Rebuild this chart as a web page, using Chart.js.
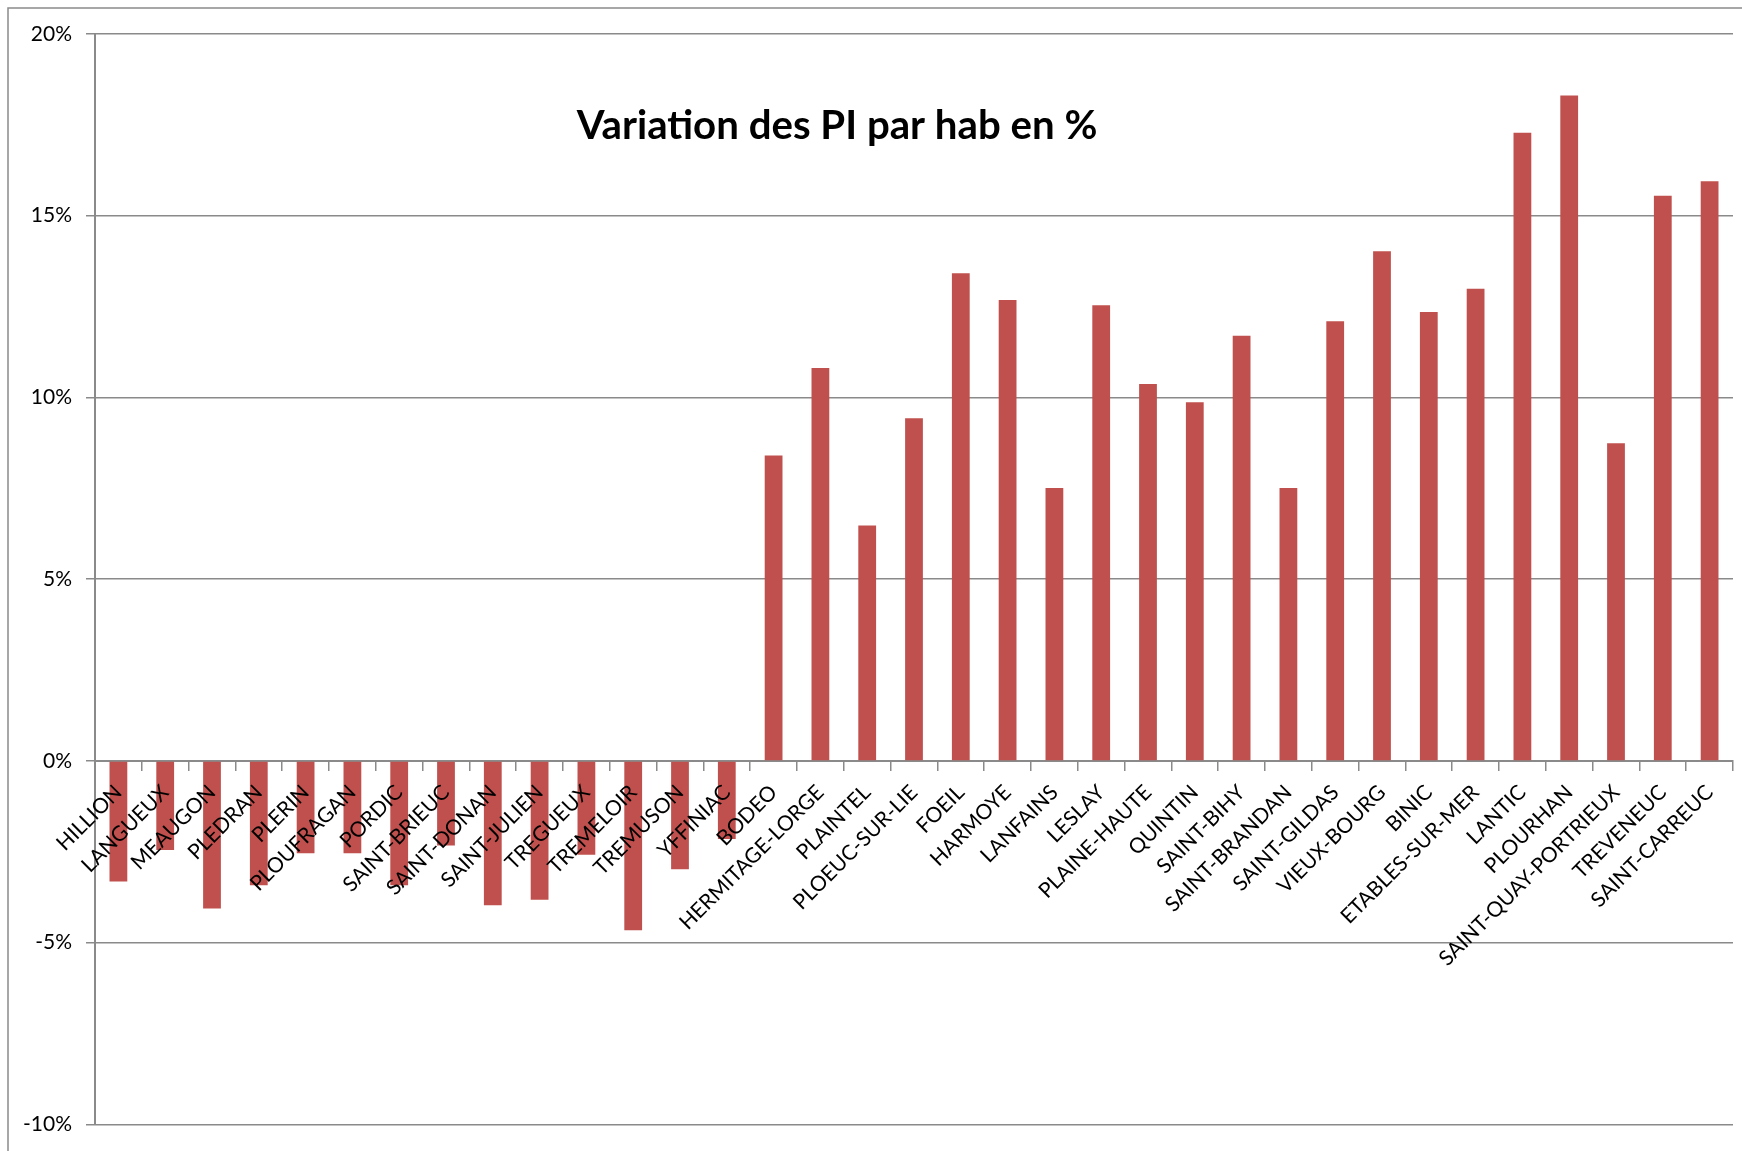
<!DOCTYPE html>
<html>
<head>
<meta charset="utf-8">
<script src="https://cdn.jsdelivr.net/npm/chart.js@4.4.1/dist/chart.umd.min.js"></script>
<style>
  html, body { margin: 0; padding: 0; background: #fff; }
  #wrap { position: relative; width: 1742px; height: 1151px; }
</style>
</head>
<body>
<div id="wrap"><canvas id="piChart"></canvas></div>
<script>
const communes = [
  "HILLION", "LANGUEUX", "MEAUGON", "PLEDRAN", "PLERIN", "PLOUFRAGAN", "PORDIC",
  "SAINT-BRIEUC", "SAINT-DONAN", "SAINT-JULIEN", "TREGUEUX", "TREMELOIR", "TREMUSON",
  "YFFINIAC", "BODEO", "HERMITAGE-LORGE", "PLAINTEL", "PLOEUC-SUR-LIE", "FOEIL",
  "HARMOYE", "LANFAINS", "LESLAY", "PLAINE-HAUTE", "QUINTIN", "SAINT-BIHY",
  "SAINT-BRANDAN", "SAINT-GILDAS", "VIEUX-BOURG", "BINIC", "ETABLES-SUR-MER",
  "LANTIC", "PLOURHAN", "SAINT-QUAY-PORTRIEUX", "TREVENEUC", "SAINT-CARREUC"
];
// variation en %
const variations = [
  -3.32, -2.45, -4.06, -3.42, -2.54, -2.54, -3.42,
  -2.33, -3.97, -3.82, -2.58, -4.66, -2.98,
  -2.15, 8.40, 10.81, 6.48, 9.43, 13.42,
  12.68, 7.51, 12.54, 10.37, 9.87, 11.70,
  7.51, 12.10, 14.02, 12.35, 12.99,
  17.28, 18.31, 8.74, 15.55, 15.95
];
const yTicks = [-10, -5, 0, 5, 10, 15, 20];
const chartTitle = "Variation des PI par hab en %";

const gridGrey = "#8a8a8a";
const labelFont = { family: "Lato", size: 21 };

// cadre + titre façon Excel
const decor = {
  id: "decor",
  beforeDraw(chart) {
    const ctx = chart.ctx;
    ctx.save();
    ctx.strokeStyle = gridGrey;
    ctx.lineWidth = 1.5;
    ctx.beginPath();
    ctx.moveTo(8, chart.height + 5);
    ctx.lineTo(8, 8);
    ctx.lineTo(chart.width + 5, 8);
    ctx.stroke();
    ctx.restore();
  },
  afterDraw(chart) {
    const ctx = chart.ctx;
    ctx.save();
    ctx.font = "bold 40px Lato";
    const w = ctx.measureText(chartTitle).width;
    const size = 40 * 521 / w;
    ctx.font = "bold " + size.toFixed(1) + "px Lato";
    ctx.fillStyle = "#000";
    ctx.textAlign = "center";
    ctx.textBaseline = "alphabetic";
    ctx.fillText(chartTitle, 837, 139);
    ctx.restore();
  }
};

const ctx = document.getElementById("piChart").getContext("2d");
new Chart(ctx, {
  type: "bar",
  data: {
    labels: communes,
    datasets: [{
      label: chartTitle,
      data: variations,
      backgroundColor: "#C0504D",
      borderWidth: 0,
      barPercentage: 0.38,
      categoryPercentage: 1.0
    }]
  },
  options: {
    responsive: true,
    maintainAspectRatio: false,
    animation: false,
    layout: { padding: { left: 0, right: 9, top: 34, bottom: 22 } },
    plugins: {
      legend: { display: false },
      tooltip: { enabled: false }
    },
    scales: {
      x: {
        position: { y: 0 },
        grid: {
          drawOnChartArea: false,
          drawTicks: true,
          tickLength: 9,
          color: gridGrey,
          lineWidth: 1.5
        },
        border: { display: true, color: gridGrey, width: 2 },
        ticks: {
          z: 1, // étiquettes par-dessus les barres
          autoSkip: false,
          minRotation: 45,
          maxRotation: 45,
          padding: 10,
          color: "#000",
          font: labelFont
        }
      },
      y: {
        min: yTicks[0],
        max: yTicks[yTicks.length - 1],
        afterFit(scale) { scale.width = 95; },
        grid: {
          color: gridGrey,
          lineWidth: 1.5,
          drawTicks: true,
          tickLength: 9
        },
        border: { display: true, color: gridGrey, width: 2 },
        ticks: {
          stepSize: yTicks[1] - yTicks[0],
          padding: 14,
          color: "#000",
          font: labelFont,
          callback: v => v + "%"
        }
      }
    }
  },
  plugins: [decor]
});
</script>
</body>
</html>
